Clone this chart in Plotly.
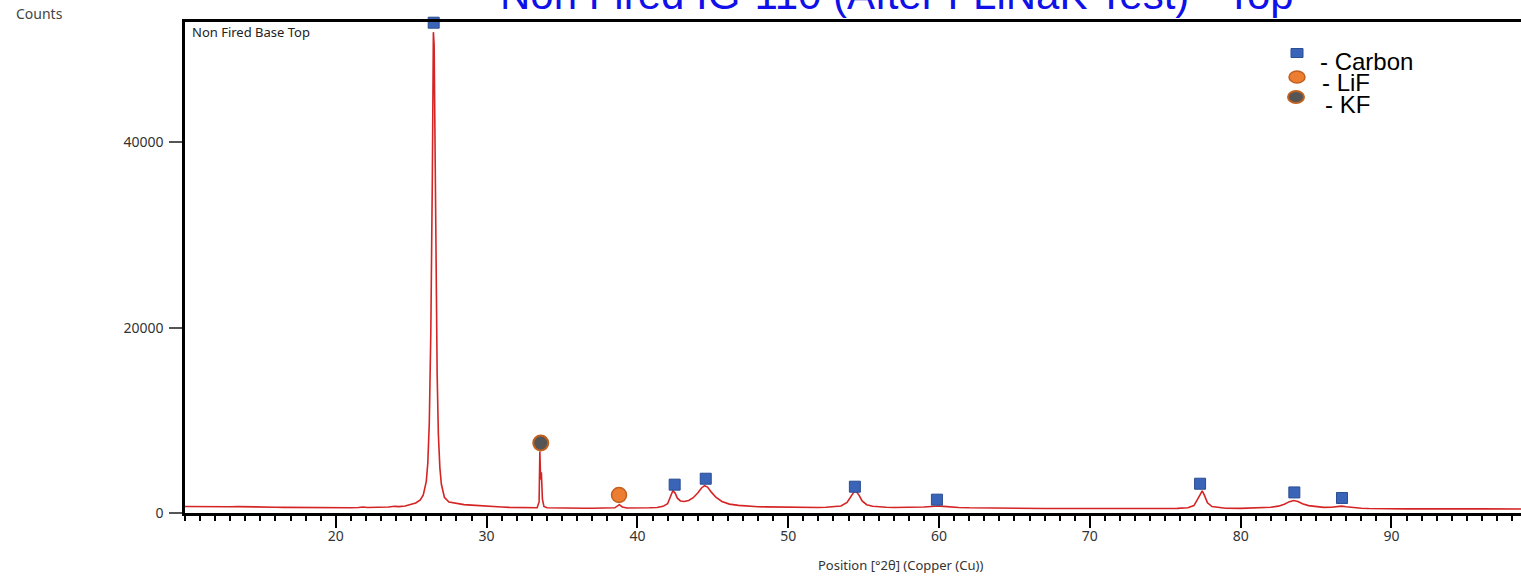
import plotly.graph_objects as go

# XRD scan: position (degrees 2-theta) and intensity (counts)
two_theta = [
    10.0, 10.5, 11.0, 11.5, 12.0, 12.5, 13.0, 13.5, 14.0, 14.5, 15.0, 15.5, 16.0, 16.5,
    17.0, 17.5, 18.0, 18.5, 19.0, 19.5, 20.0, 20.5, 21.0, 21.5, 21.8, 22.1, 22.6, 23.0,
    23.5, 23.9, 24.2, 24.6, 25.0, 25.3, 25.6, 25.8, 26.0, 26.1, 26.2, 26.3, 26.4, 26.47,
    26.52, 26.58, 26.65, 26.72, 26.8, 26.9, 27.0, 27.2, 27.5, 28.0, 28.5, 29.0, 29.5,
    30.0, 30.5, 31.0, 31.5, 32.0, 32.5, 33.0, 33.35, 33.48, 33.53, 33.58, 33.63, 33.7,
    33.8, 34.0, 34.5, 35.0, 35.5, 36.0, 36.5, 37.0, 37.5, 38.0, 38.5, 38.8, 39.0, 39.3,
    39.8, 40.3, 40.8, 41.3, 41.7, 42.0, 42.2, 42.35, 42.5, 42.65, 42.85, 43.1, 43.4,
    43.7, 44.0, 44.25, 44.45, 44.65, 44.9, 45.2, 45.6, 46.1, 46.7, 47.3, 48.0, 48.5,
    49.0, 49.5, 50.0, 50.5, 51.0, 51.5, 52.0, 52.5, 53.0, 53.5, 53.9, 54.15, 54.35,
    54.5, 54.7, 54.9, 55.2, 55.6, 56.0, 56.5, 57.0, 57.5, 58.0, 58.5, 59.0, 59.5, 59.9,
    60.3, 60.8, 61.3, 62.0, 62.5, 63.0, 64.0, 65.0, 66.0, 67.0, 68.0, 69.0, 70.0, 71.0,
    72.0, 73.0, 74.0, 75.0, 75.8, 76.5, 76.9, 77.15, 77.35, 77.45, 77.6, 77.8, 78.1,
    78.6, 79.0, 80.0, 80.5, 81.0, 81.5, 82.0, 82.5, 82.9, 83.2, 83.5, 83.8, 84.1, 84.5,
    85.0, 85.5, 86.0, 86.4, 86.7, 87.0, 87.5, 88.0, 88.5, 89.0, 90.0, 91.0, 92.0, 93.0,
    93.6, 94.2, 95.0, 96.0, 97.0, 98.0, 98.6,
]
counts = [
    705, 690, 712, 695, 700, 684, 676, 690, 662, 650, 640, 628, 620, 612,
    600, 596, 588, 578, 570, 566, 560, 570, 574, 590, 640, 600, 590, 600,
    640, 720, 690, 760, 900, 1080, 1420, 1950, 3400, 5400, 9800, 19500, 36000, 51900,
    50500, 40000, 25000, 15000, 8500, 4900, 3100, 1700, 1180, 1000, 900, 850, 780,
    720, 680, 650, 610, 580, 560, 545, 560, 1200, 6650, 3600, 4400, 1500,
    700, 560, 540, 530, 545, 520, 515, 520, 510, 520, 560, 900, 650, 540,
    520, 540, 560, 600, 720, 1000, 1700, 2400, 2150, 1600, 1300, 1250, 1350,
    1650, 2150, 2700, 2950, 2800, 2250, 1700, 1250, 960, 820, 730, 680, 660,
    640, 650, 625, 620, 610, 615, 600, 620, 650, 760, 1150, 1750, 2250,
    2350, 1900, 1300, 900, 720, 660, 620, 600, 590, 585, 610, 640, 700, 760,
    720, 640, 600, 560, 545, 530, 510, 500, 490, 485, 480, 475, 470, 480,
    470, 475, 470, 480, 500, 560, 800, 1500, 2200, 2380, 1900, 1100, 700,
    560, 520, 500, 510, 530, 560, 620, 740, 950, 1200, 1350, 1250, 1000, 800,
    670, 610, 620, 690, 740, 680, 580, 520, 490, 470, 450, 445, 450, 470,
    500, 470, 450, 440, 440, 435, 430,
]

# Phase identification markers placed above the reflections
carbon_pos = [26.49, 42.47, 44.53, 54.42, 59.86, 77.31, 83.56, 86.72]
carbon_mark = [52920, 3060, 3700, 2840, 1440, 3160, 2220, 1620]
lif_pos = [38.78]
lif_mark = [1940]
kf_pos = [33.59]
kf_mark = [7555]

phase_names = ["- Carbon", "- LiF", "- KF"]

x_range = [10, 98.59]
x_ticks = [20, 30, 40, 50, 60, 70, 80, 90]
y_range = [0, 52995]
y_ticks = [0, 20000, 40000]

W, H = 1521, 577
L, R, T, B = 185, 0, 22, 64
PW, PH = W - L - R, H - T - B


def px(xp):
    return (xp - L) / PW


def py(yp):
    return (H - B - yp) / PH


fig = go.Figure()

fig.add_trace(go.Scatter(
    x=two_theta, y=counts, mode="lines",
    line=dict(color="#d42424", width=1.6),
    hoverinfo="x+y", showlegend=False,
))

fig.add_trace(go.Scatter(
    x=carbon_pos, y=carbon_mark, mode="markers", cliponaxis=False,
    marker=dict(symbol="square", size=11, color="#3a64b8",
                line=dict(color="#2b4d93", width=1)),
    showlegend=False,
))
fig.add_trace(go.Scatter(
    x=lif_pos, y=lif_mark, mode="markers", cliponaxis=False,
    marker=dict(symbol="circle", size=15, color="#ed7d31",
                line=dict(color="#c0601f", width=1.5)),
    showlegend=False,
))
fig.add_trace(go.Scatter(
    x=kf_pos, y=kf_mark, mode="markers", cliponaxis=False,
    marker=dict(symbol="circle", size=15, color="#555555",
                line=dict(color="#c0601f", width=2)),
    showlegend=False,
))

shapes = [
    # legend swatches
    dict(type="rect", xref="paper", yref="paper",
         xsizemode="pixel", ysizemode="pixel",
         xanchor=px(1297), yanchor=py(53),
         x0=-6, x1=6, y0=-4.5, y1=4.5,
         fillcolor="#3a64b8", line=dict(color="#2b4d93", width=1)),
    dict(type="circle", xref="paper", yref="paper",
         xsizemode="pixel", ysizemode="pixel",
         xanchor=px(1297), yanchor=py(77),
         x0=-8, x1=8, y0=-6, y1=6,
         fillcolor="#ed7d31", line=dict(color="#c0601f", width=1.5)),
    dict(type="circle", xref="paper", yref="paper",
         xsizemode="pixel", ysizemode="pixel",
         xanchor=px(1296), yanchor=py(97),
         x0=-8, x1=8, y0=-6, y1=6,
         fillcolor="#555555", line=dict(color="#c0601f", width=2)),
]

annotations = [
    dict(text="Non Fired IG-110 (After FLiNaK Test) - Top",
         xref="paper", yref="paper", x=px(897), y=py(-5),
         xanchor="center", yanchor="middle", showarrow=False,
         font=dict(family="Liberation Sans, Arial", size=42, color="#1010e8")),
    dict(text="Counts", xref="paper", yref="paper", x=px(14), y=py(13),
         xanchor="left", yanchor="middle", showarrow=False,
         font=dict(family="Noto Sans", size=14, color="#444444")),
    dict(text="Non Fired Base Top", xref="paper", yref="paper", x=px(190), y=py(32),
         xanchor="left", yanchor="middle", showarrow=False,
         font=dict(family="Noto Sans", size=13, color="#222222")),
    dict(text="Position [°2θ] (Copper (Cu))", xref="paper", yref="paper",
         x=px(901), y=py(565), xanchor="center", yanchor="middle", showarrow=False,
         font=dict(family="Noto Sans", size=13, color="#333333")),
]
legend_px = [(1318, 61), (1320, 82), (1323, 104)]
for name, (lx, ly) in zip(phase_names, legend_px):
    annotations.append(dict(
        text=name, xref="paper", yref="paper", x=px(lx), y=py(ly),
        xanchor="left", yanchor="middle", showarrow=False,
        font=dict(family="Liberation Sans, Arial", size=24, color="#000000")))

fig.update_layout(
    width=W, height=H,
    margin=dict(l=L, r=R, t=T, b=B),
    paper_bgcolor="white", plot_bgcolor="white",
    showlegend=False,
    shapes=shapes, annotations=annotations,
    xaxis=dict(
        range=x_range, showgrid=False, zeroline=False,
        showline=True, linecolor="black", linewidth=2.5, mirror=True,
        tickmode="array", tickvals=x_ticks,
        ticks="outside", ticklen=12, tickwidth=2, tickcolor="black",
        minor=dict(tickmode="linear", tick0=0, dtick=1, ticks="outside",
                   ticklen=5, tickwidth=1.5, tickcolor="black", showgrid=False),
        tickfont=dict(family="Noto Sans", size=14, color="#333333"),
        ticklabelstandoff=-4,
    ),
    yaxis=dict(
        range=y_range, showgrid=False, zeroline=False,
        showline=True, linecolor="black", linewidth=2.5,
        tickmode="array", tickvals=y_ticks, tickformat="d",
        ticks="outside", ticklen=13, tickwidth=1.5, tickcolor="#555555",
        tickfont=dict(family="Noto Sans", size=14, color="#333333"),
        ticklabelstandoff=3,
    ),
)

fig.write_html("out.html")
